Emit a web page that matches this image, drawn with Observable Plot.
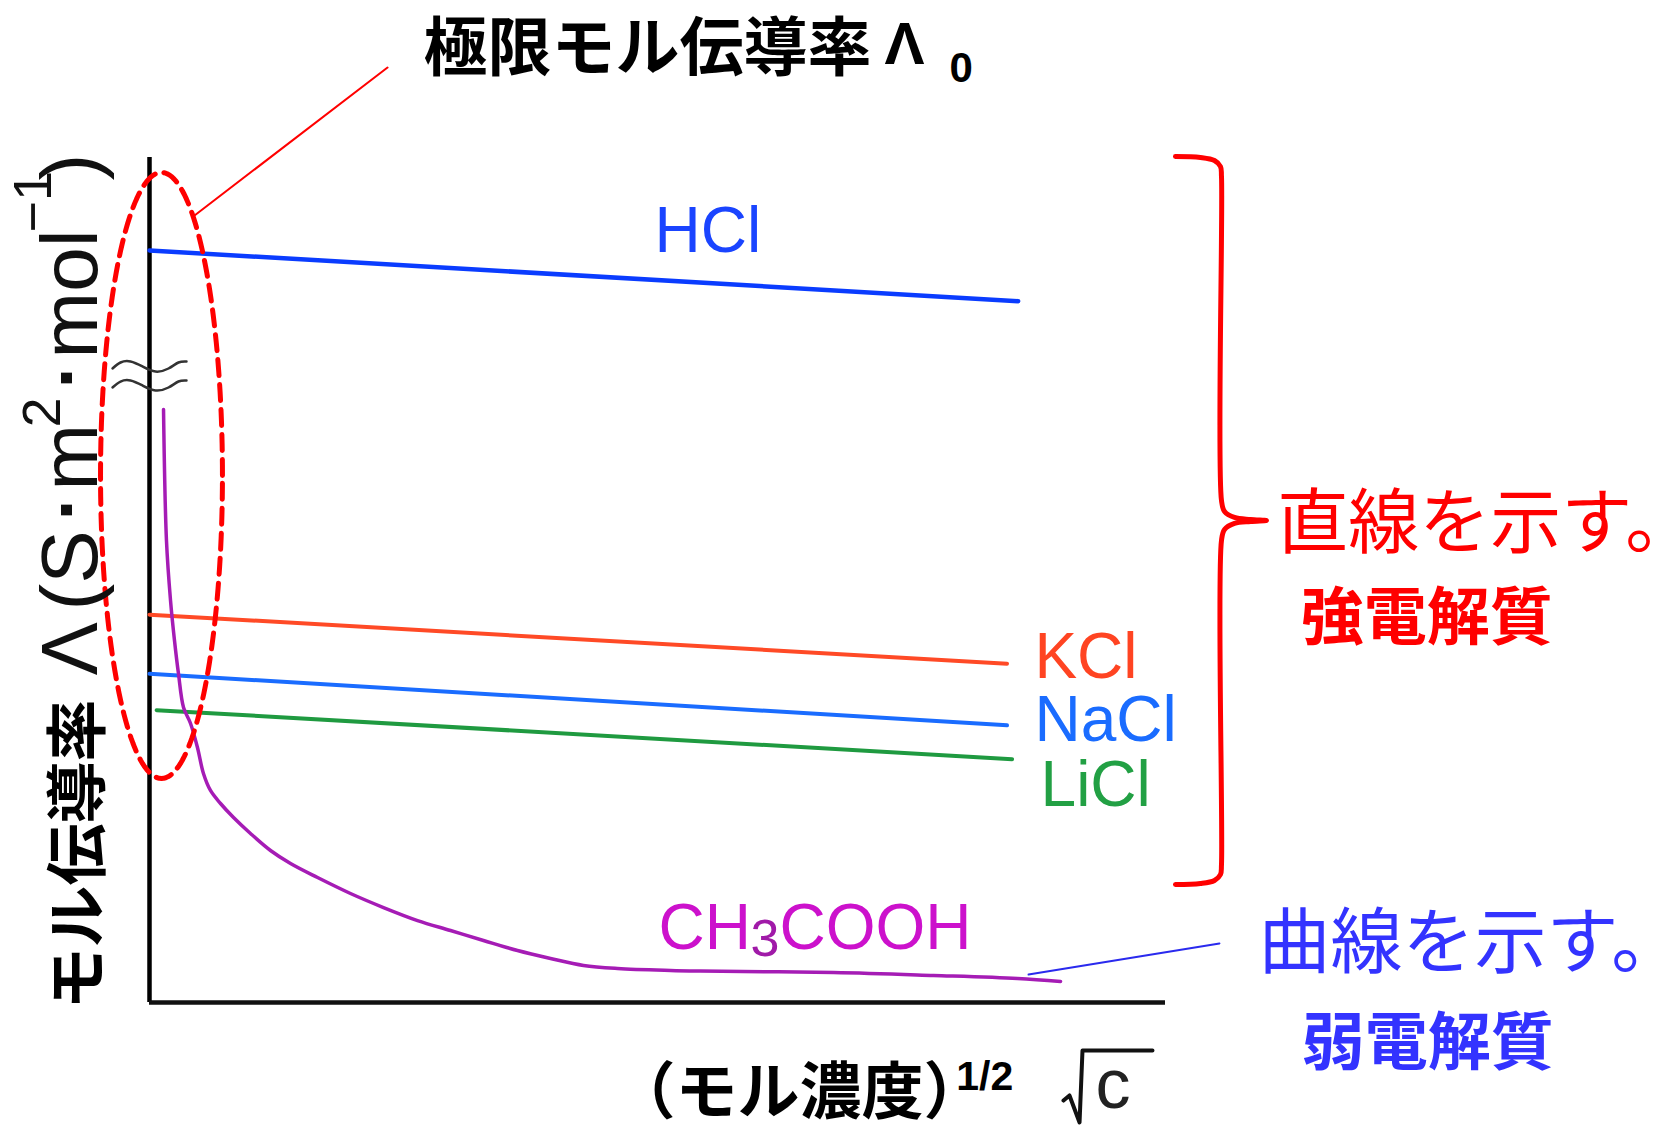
<!DOCTYPE html>
<html><head><meta charset="utf-8">
<script src="https://cdn.jsdelivr.net/npm/d3@7"></script>
<script src="https://cdn.jsdelivr.net/npm/@observablehq/plot@0.6"></script>
<style>html,body{margin:0;padding:0;background:#fff;overflow:hidden}</style>
</head><body><div id="chart"></div>
<script>
// ---- data (x = √c, y = Λ, arbitrary schematic units) ----
const hclX = [0, 0.855],     hclY = [89.0, 83.0];
const kclX = [0, 0.844],     kclY = [45.9, 40.1];
const naclX = [0, 0.844],    naclY = [38.9, 32.8];
const liclX = [0.007, 0.849], liclY = [34.6, 28.8];
const aceticX = [0.0138,0.0167,0.0207,0.0246,0.0285,0.0335,0.0404,0.0472,0.0531,0.0600,0.0699,0.0827,0.0994,0.1191,0.1388,0.1654,0.1978,0.2303,0.2638,0.2963,0.3287,0.3622,0.3947,0.4272,0.4606,0.5128,0.5423,0.6732,0.7717,0.8543,0.8967];
const aceticY = [70.18,54.67,47.57,42.84,38.93,34.91,33.02,30.18,27.10,25.09,23.55,21.89,20.0,17.99,16.45,14.79,12.90,11.24,9.70,8.52,7.34,6.15,5.21,4.38,4.02,3.79,3.72,3.55,3.20,2.84,2.49];
const seriesNames = ["HCl", "KCl", "NaCl", "LiCl", "CH3COOH"];

// ---- annotation geometry (in the same data units) ----
const bracketX = [1.0098,1.0344,1.0482,1.0541,1.0551,1.0551,1.0581,1.0679,1.0837,1.0994,1.0837,1.0679,1.0581,1.0551,1.0551,1.0541,1.0482,1.0344,1.0098];
const bracketY = [100.12,100.0,99.64,98.93,97.75,59.41,58.11,57.40,57.16,57.04,56.92,56.69,55.98,54.67,16.33,15.15,14.44,14.08,13.96];
const waveX = [-0.0364,-0.0285,-0.0187,-0.0069,0.0059,0.0187,0.0285,0.0364];
const wave1Y = [75.03,75.74,75.86,75.27,74.67,75.03,75.74,75.86];
const wave2Y = [72.78,73.49,73.61,73.02,72.43,72.78,73.49,73.61];
const sqrtX = [0.8996,0.9055,0.9154,0.9183,0.9872];
const sqrtY = [-11.6,-11.0,-14.2,-5.68,-5.68];
const ellipse = {cx: 0.0118, cy: 62.37, rx: 0.060, ry: 35.86};

const JP = "'Noto Sans CJK JP', 'Noto Sans', sans-serif";
const LAT = "'Liberation Sans', Arial, sans-serif";

const rows = (xs, ys) => xs.map((x, i) => ({x, y: ys[i]}));
const ellPts = d3.range(0, 361, 2).map(a => ({
  x: ellipse.cx + ellipse.rx * Math.cos(a * Math.PI / 180),
  y: ellipse.cy + ellipse.ry * Math.sin(a * Math.PI / 180)
}));
const label = (t, x, y, o) => Plot.text([{t, x, y}], {x: "x", y: "y", text: "t", textAnchor: "start", lineAnchor: "bottom", ...o});

const chart = Plot.plot({
  width: 1671, height: 1125,
  marginLeft: 149, marginRight: 506, marginTop: 157, marginBottom: 123,
  x: {domain: [0, 1], axis: null},
  y: {domain: [0, 100], axis: null},
  style: {background: "#fff", overflow: "visible"},
  marks: [
    // axes
    Plot.ruleX([0], {y1: 0, y2: 100, stroke: "#000", strokeWidth: 4.5}),
    Plot.ruleY([0], {x1: 0, x2: 1, stroke: "#111", strokeWidth: 4.5}),
    Plot.line(rows(waveX, wave1Y), {x: "x", y: "y", curve: "natural", stroke: "#333", strokeWidth: 2.5}),
    Plot.line(rows(waveX, wave2Y), {x: "x", y: "y", curve: "natural", stroke: "#333", strokeWidth: 2.5}),
    // data lines
    Plot.line(rows(hclX, hclY), {x: "x", y: "y", stroke: "#0a3cff", strokeWidth: 4.5}),
    Plot.line(rows(kclX, kclY), {x: "x", y: "y", stroke: "#ff4a26", strokeWidth: 4}),
    Plot.line(rows(naclX, naclY), {x: "x", y: "y", stroke: "#1a6cff", strokeWidth: 4}),
    Plot.line(rows(liclX, liclY), {x: "x", y: "y", stroke: "#1f9a40", strokeWidth: 4}),
    Plot.line(rows(aceticX, aceticY), {x: "x", y: "y", curve: "catmull-rom", stroke: "#a51cb5", strokeWidth: 3.5}),
    // series labels
    label(seriesNames[0], 0.497, 88.76, {fill: "#1a44ff", fontSize: 64, fontFamily: LAT}),
    label(seriesNames[1], 0.871, 38.46, {fill: "#ff4422", fontSize: 64, fontFamily: LAT}),
    label(seriesNames[2], 0.871, 31.0, {fill: "#1a6cff", fontSize: 64, fontFamily: LAT}),
    label(seriesNames[3], 0.877, 23.31, {fill: "#22a044", fontSize: 64, fontFamily: LAT}),
    label("CH", 0.501, 6.39, {fill: "#cc11cc", fontSize: 64, fontFamily: LAT}),
    label("3", 0.5915, 5.56, {fill: "#a01aa8", fontSize: 52, fontFamily: LAT}),
    label("COOH", 0.6201, 6.39, {fill: "#cc11cc", fontSize: 64, fontFamily: LAT}),
    // ellipse and callouts
    Plot.line(ellPts, {x: "x", y: "y", stroke: "#ff0000", strokeWidth: 5, strokeDasharray: "16,9", curve: "linear"}),
    Plot.line(rows([0.0443, 0.2343], [93.14, 110.65]), {x: "x", y: "y", stroke: "#ff0000", strokeWidth: 2}),
    Plot.line(rows(bracketX, bracketY), {x: "x", y: "y", stroke: "#ff0000", strokeWidth: 5, curve: "catmull-rom"}),
    Plot.line(rows([0.8652, 1.0531], [3.31, 6.98]), {x: "x", y: "y", stroke: "#2a2aee", strokeWidth: 2}),
    // title
    label("極限モル伝導率", 0.2697, 110.3, {fill: "#000", fontSize: 64, fontWeight: "bold", fontFamily: JP}),
    label("Λ", 0.7234, 111.1, {fill: "#000", fontSize: 60, fontWeight: "bold", fontFamily: LAT}),
    label("0", 0.7874, 108.9, {fill: "#000", fontSize: 42, fontWeight: "bold", fontFamily: LAT}),
    // right annotations
    label("直線を示す。", 1.110, 53.96, {fill: "#ff0000", fontSize: 71, fontFamily: JP}),
    label("強電解質", 1.133, 42.96, {fill: "#ff0000", fontSize: 63, fontWeight: "bold", fontFamily: JP}),
    label("曲線を示す。", 1.0915, 4.26, {fill: "#3333ff", fontSize: 72, fontFamily: JP}),
    label("弱電解質", 1.134, -7.22, {fill: "#3333ff", fontSize: 63, fontWeight: "bold", fontFamily: JP}),
    // x label
    label("（モル濃度）", 0.4567, -13.14, {fill: "#000", fontSize: 62, fontWeight: "bold", fontFamily: JP}),
    label("1/2", 0.794, -10.41, {fill: "#000", fontSize: 41, fontWeight: "bold", fontFamily: LAT}),
    Plot.line(rows(sqrtX, sqrtY), {x: "x", y: "y", stroke: "#111", strokeWidth: 4}),
    label("c", 0.931, -12.54, {fill: "#222", fontSize: 70, fontFamily: LAT}),
    // y label (rotated)
    label("モル伝導率", -0.0492, -0.83, {fill: "#000", fontSize: 62, fontWeight: "bold", fontFamily: JP, rotate: -90}),
    label("Λ", -0.0512, 38.7, {fill: "#111", fontSize: 80, fontFamily: LAT, rotate: -90}),
    label("(S", -0.0512, 46.39, {fill: "#111", fontSize: 80, fontFamily: LAT, rotate: -90}),
    label("･m", -0.0512, 55.86, {fill: "#111", fontSize: 80, fontFamily: LAT, rotate: -90}),
    label("2", -0.0876, 68.05, {fill: "#111", fontSize: 54, fontFamily: LAT, rotate: -90}),
    label("･mol", -0.0512, 71.48, {fill: "#111", fontSize: 80, fontFamily: LAT, rotate: -90}),
    label("−1", -0.0974, 91.12, {fill: "#111", fontSize: 54, fontFamily: LAT, rotate: -90}),
    label(")", -0.0512, 97.28, {fill: "#111", fontSize: 80, fontFamily: LAT, rotate: -90})
  ]
});
document.getElementById("chart").appendChild(chart);
</script></body></html>
